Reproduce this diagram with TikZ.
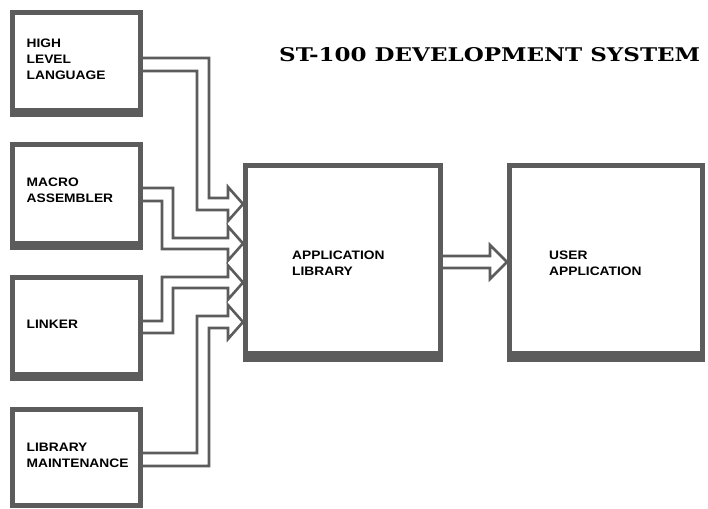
\documentclass[tikz,border=0pt]{standalone}
\usepackage{fontspec}
\usepackage{graphicx}
\usetikzlibrary{calc}
\newfontfamily\labfont[FakeStretch=1.12]{Liberation Sans}
\newfontfamily\titlefont{DejaVu Serif}
\definecolor{fr}{gray}{0.36}
\tikzset{
  box/.style n args={3}{rectangle, inner sep=0pt, outer sep=0pt, draw=none,
    minimum width=#1pt, minimum height=#2pt,
    path picture={
      \fill[fr] (path picture bounding box.south west) rectangle (path picture bounding box.north east);
      \fill[white] ($(path picture bounding box.south west)+(5,-#3)$) rectangle ($(path picture bounding box.north east)+(-5,5)$);
    }},
  lab/.style={anchor=north west, inner sep=0pt, align=left,
    font=\labfont\bfseries\fontsize{12.3}{16}\selectfont},
  pipe/.style={draw=fr, line width=2.6pt, line join=miter},
}
\begin{document}
\begin{tikzpicture}[x=1pt,y=-1pt]
\useasboundingbox (0,0) rectangle (708,508);
% boxes
\node[box={133}{107}{9}] (hll) at (76.5,63.5) {};
\node[box={133}{108}{9}] (mac) at (76.5,196) {};
\node[box={133}{106}{9}] (lnk) at (76.5,328) {};
\node[box={133}{101}{5}] (lbm) at (76.5,457.5) {};
\node[box={200}{199}{11}] (app) at (343,262.5) {};
\node[box={198}{199}{11}] (usr) at (606,262.5) {};
% labels
\node[lab] (thll) at (26.5,39) {HIGH\\LEVEL\\LANGUAGE};
\node[lab] (tmac) at (26.5,178) {MACRO\\ASSEMBLER};
\node[lab] (tlnk) at (26.5,320) {LINKER};
\node[lab] (tlbm) at (26.5,443) {LIBRARY\\MAINTENANCE};
\node[lab] (tapp) at (292,251) {APPLICATION\\LIBRARY};
\node[lab] (tusr) at (549,251) {USER\\APPLICATION};
% title
\node[anchor=base west, inner sep=0pt] (title) at (279,61.5)
  {\resizebox{421pt}{14pt}{\titlefont\bfseries ST-100 DEVELOPMENT SYSTEM}};
% pipes
\draw[pipe] ($(hll.north east)+(-2,48)$) -- (209,58) -- (209,198) -- (228,198) -- (228,187)
  -- ($(app.north west)+(0,41)$) -- (228,221) -- (228,210) -- (197,210) -- (197,71)
  -- ($(hll.north east)+(-2,61)$);
\draw[pipe] ($(mac.north east)+(-2,46)$) -- (173,188) -- (173,238) -- (228,238) -- (228,226.5)
  -- ($(app.north west)+(0,80.5)$) -- (228,260.5) -- (228,249) -- (162,249) -- (162,201)
  -- ($(mac.north east)+(-2,59)$);
\draw[pipe] ($(lnk.north east)+(-2,46)$) -- (162,321) -- (162,277) -- (228,277) -- (228,265.5)
  -- ($(app.north west)+(0,119.5)$) -- (228,299.5) -- (228,288) -- (173,288) -- (173,333)
  -- ($(lnk.north east)+(-2,58)$);
\draw[pipe] ($(lbm.north east)+(-2,46)$) -- (197,453) -- (197,316) -- (228,316) -- (228,305)
  -- ($(app.north west)+(0,159)$) -- (228,339) -- (228,328) -- (209,328) -- (209,466)
  -- ($(lbm.north east)+(-2,59)$);
\draw[pipe] ($(app.north east)+(-2,93)$) -- (490,256) -- (490,245)
  -- ($(usr.north west)+(0,99)$) -- (490,279) -- (490,268)
  -- ($(app.north east)+(-2,105)$);
\end{tikzpicture}
\end{document}
